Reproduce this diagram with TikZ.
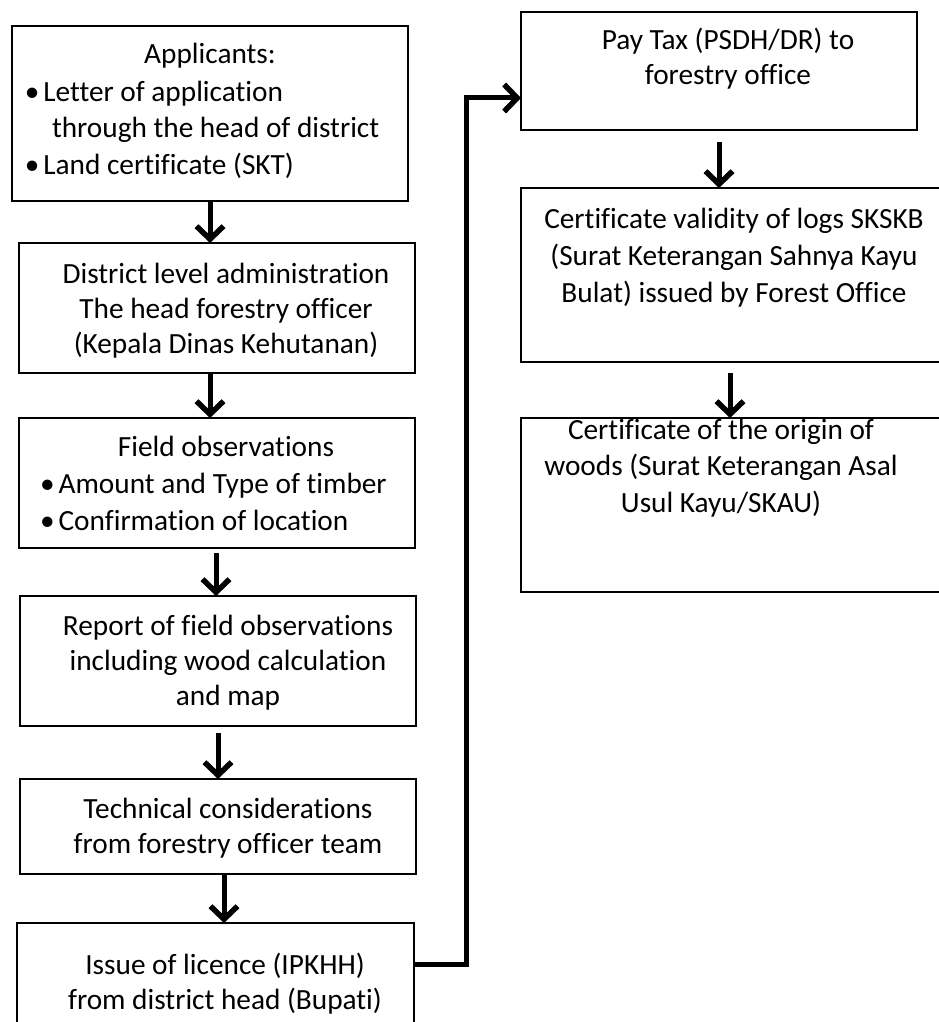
\documentclass[tikz,border=0pt]{standalone}
\usepackage{fontspec}
\setmainfont{Carlito}[RawFeature={-liga}]
\usetikzlibrary{arrows.meta}
\tikzset{
  box/.style={draw=black, line width=1.3pt, rectangle, anchor=north west, inner sep=0pt, outer sep=0pt},
  txt/.style={anchor=north, inner sep=0pt, outer sep=0pt, align=center, text=black},
  ltxt/.style={anchor=north west, inner sep=0pt, outer sep=0pt, align=left, text=black},
  flowarrow/.style={line width=5pt, -{Straight Barb[length=13pt, width=27pt, line width=5.5pt]}},
  bigconn/.style={line width=5pt, line join=miter, -{Straight Barb[length=13pt, width=27pt, line width=5.5pt]}},
}
\newcommand{\fs}[1]{\fontsize{29.3pt}{#1pt}\selectfont}
\newcommand{\tp}{\rule{0pt}{25pt}}
\newcommand{\bul}{•\hspace{4pt}}
\begin{document}
\begin{tikzpicture}[x=1pt, y=-1pt]
\useasboundingbox (0,0) rectangle (939,1022);
\clip (0,0) rectangle (939,1022);
\fill[white] (0,0) rectangle (939,1022);

% left column boxes
\node[box, minimum width=396pt, minimum height=175pt] (A) at (12,26) {};
\node[box, minimum width=396pt, minimum height=130pt] (B) at (19,243) {};
\node[box, minimum width=396pt, minimum height=130pt] (C) at (19,418) {};
\node[box, minimum width=396pt, minimum height=130pt] (D) at (20,596) {};
\node[box, minimum width=396pt, minimum height=95pt]  (E) at (20,779) {};
\node[box, minimum width=397pt, minimum height=130pt] (F) at (17,923) {};

% right column boxes
\node[box, minimum width=396pt, minimum height=118pt] (P) at (521,12) {};
\node[box, minimum width=430pt, minimum height=174pt] (V) at (521,188) {};
\node[box, minimum width=430pt, minimum height=174pt] (O) at (521,418) {};

% texts
\node[txt, font=\fs{36}] (tA1) at (210,64-25) {\tp Applicants:};
\node[ltxt, font=\fs{36.5}] (tA2) at (24.8,101-25) {\tp\bul Letter of application\\ \hspace*{27.2pt}through the head of district\\ \bul Land certificate (SKT)};
\node[txt, font=\fs{35}] (tB) at (226,283-25) {\tp District level administration\\ The head forestry officer\\ (Kepala Dinas Kehutanan)};
\node[txt, font=\fs{36}] (tC1) at (226,456-25) {\tp Field observations};
\node[ltxt, font=\fs{37}] (tC2) at (40,493-25) {\tp\bul Amount and Type of timber\\ \bul Confirmation of location};
\node[txt, font=\fs{35}] (tD) at (228,635-25) {\tp Report of field observations\\ including wood calculation\\ and map};
\node[txt, font=\fs{35}] (tE) at (228,818-25) {\tp Technical considerations\\ from forestry officer team};
\node[txt, font=\fs{35}] (tF) at (225,974-25) {\tp Issue of licence (IPKHH)\\ from district head (Bupati)};
\node[txt, font=\fs{35}] (tP) at (728,50-25) {\tp Pay Tax (PSDH/DR) to\\ forestry office};
\node[txt, font=\fs{37}] (tV) at (734,228-25) {\tp Certificate validity of logs SKSKB\\ (Surat Keterangan Sahnya Kayu\\ Bulat) issued by Forest Office};
\node[txt, font=\fs{36.5}] (tO) at (721,439-25) {\tp Certificate of the origin of\\ woods (Surat Keterangan Asal\\ Usul Kayu/SKAU)};

% connectors
\draw[flowarrow] (A.south -| 210,0) -- (B.north -| 210,0);
\draw[flowarrow] (B.south -| 210,0) -- (C.north -| 210,0);
\draw[flowarrow, shorten <=5pt] (C.south -| 216,0) -- (D.north -| 216,0);
\draw[flowarrow, shorten <=7pt] (D.south -| 218,0) -- (E.north -| 218,0);
\draw[flowarrow] (E.south -| 224,0) -- (F.north -| 224,0);
\coordinate (k1) at (466,964);
\coordinate (k2) at (466,98);
\draw[bigconn] (F.east |- k1) -- (k1) -- (k2) -- (P.west |- k2);
\draw[flowarrow, shorten <=12pt] (P.south -| 719,0) -- (V.north -| 719,0);
\draw[flowarrow, shorten <=11pt] (V.south -| 730,0) -- (O.north -| 730,0);
\end{tikzpicture}
\end{document}
